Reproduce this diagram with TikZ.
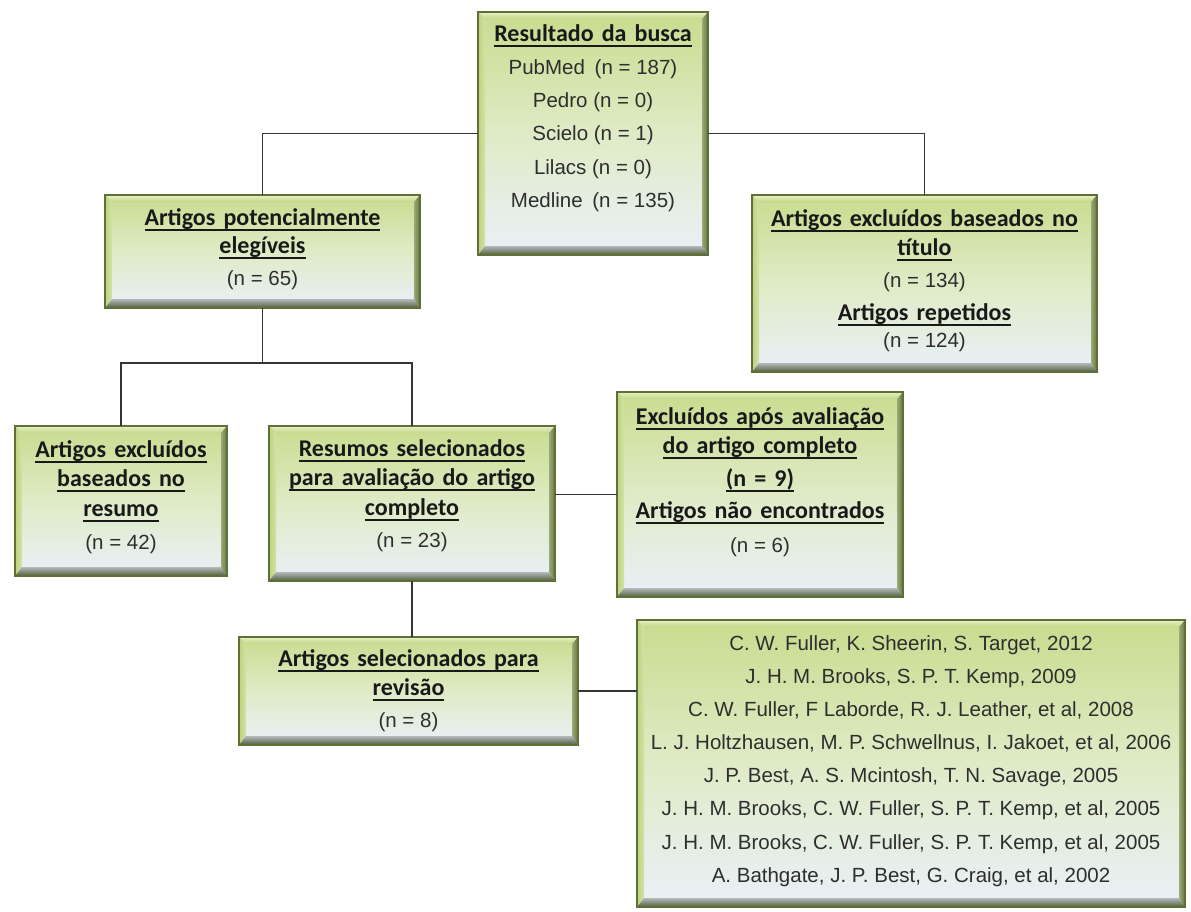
\documentclass[tikz,border=0pt]{standalone}
\usepackage{fontspec}
\setmainfont{Liberation Sans}
\newfontfamily\tfont{Carlito}[WordSpace=1.5]
\usetikzlibrary{calc}
\definecolor{bdr}{HTML}{5E7036}
\definecolor{ftop}{HTML}{C8DC8E}
\definecolor{fmid}{HTML}{DFEBC6}
\definecolor{fbot}{HTML}{E9F0F8}
\definecolor{btopa}{HTML}{E8F1C6}
\definecolor{btopb}{HTML}{C2D686}
\definecolor{blefta}{HTML}{D4E3A4}
\definecolor{bleftb}{HTML}{BCD180}
\definecolor{brighta}{HTML}{9DAA78}
\definecolor{brightb}{HTML}{62733E}
\definecolor{bbota}{HTML}{B3B9BC}
\definecolor{bbotb}{HTML}{535E3A}
\definecolor{txt}{HTML}{2E2E2E}
\definecolor{lin}{HTML}{353535}
\newsavebox\ulbox
\newcommand\ulx[1]{\sbox\ulbox{#1}\rlap{\rule[-5.5pt]{\wd\ulbox}{1.6pt}}\usebox\ulbox}
\tikzset{
  bev/.style={rectangle, inner sep=0pt, outer sep=0pt, draw=bdr, line width=1.3pt,
    top color=ftop, bottom color=fbot, middle color=fmid,
    path picture={
      \coordinate (nw) at (path picture bounding box.north west);
      \coordinate (ne) at (path picture bounding box.north east);
      \coordinate (sw) at (path picture bounding box.south west);
      \coordinate (se) at (path picture bounding box.south east);
      \shade[top color=btopa, bottom color=btopb] (nw) -- (ne) -- ([shift={(-6,7)}]ne) -- ([shift={(7,7)}]nw) -- cycle;
      \shade[left color=bleftb, right color=blefta] (nw) -- ([shift={(7,7)}]nw) -- ([shift={(7,-9)}]sw) -- (sw) -- cycle;
      \shade[left color=brighta, right color=brightb] (ne) -- (se) -- ([shift={(-6,-9)}]se) -- ([shift={(-6,7)}]ne) -- cycle;
      \shade[top color=bbota, bottom color=bbotb] (sw) -- ([shift={(7,-9)}]sw) -- ([shift={(-6,-9)}]se) -- (se) -- cycle;
    }},
  reg/.style={anchor=base, inner sep=0pt, text=txt, font=\fontsize{20.5}{24}\selectfont},
  ttl/.style={anchor=base, inner sep=0pt, text=black!90, font=\tfont\bfseries\fontsize{24}{28}\selectfont},
  conn/.style={draw=lin, line width=1.3pt}
}
\begin{document}
\begin{tikzpicture}[x=1pt, y=-1pt]
\useasboundingbox (0,0) rectangle (1191,911);
% boxes
\node[bev, minimum width=230, minimum height=243] (b1) at (593,133.5) {};
\node[bev, minimum width=315, minimum height=113] (b2) at (262.5,251.5) {};
\node[bev, minimum width=345, minimum height=177] (b3) at (924.5,283.5) {};
\node[bev, minimum width=212, minimum height=150] (b4) at (121,501) {};
\node[bev, minimum width=286, minimum height=155] (b5) at (412,503.5) {};
\node[bev, minimum width=286, minimum height=205] (b6) at (760,494.5) {};
\node[bev, minimum width=339, minimum height=108] (b7) at (408.5,691) {};
\node[bev, minimum width=548, minimum height=287] (b8) at (911,763.5) {};
% connectors
\draw[conn] (b1.west) -| (b2.north);
\draw[conn] (b1.east) -| (b3.north);
\draw[conn] (b2.south) -- ++(0,55) coordinate (j1);
\draw[conn] (b4.north) |- (j1) -| (b5.north);
\draw[conn] (b6.west) -- (b6.west -| b5.east);
\draw[conn] (b5.south) -- (b5.south |- b7.north);
\draw[conn] (b7.east) -- (b7.east -| b8.west);
% texts box 1
\node[ttl] (t1a) at (593,41) {\ulx{Resultado da busca}};
\node[reg] (t1b) at (593,74) {PubMed\hspace{4pt} (n = 187)};
\node[reg] (t1c) at (593,107) {Pedro (n = 0)};
\node[reg] (t1d) at (593,140) {Scielo (n = 1)};
\node[reg] (t1e) at (593,174) {Lilacs (n = 0)};
\node[reg] (t1f) at (593,207) {Medline\hspace{4pt} (n = 135)};
% box 2
\node[ttl] (t2a) at (262.5,225) {\ulx{Artigos potencialmente}};
\node[ttl] (t2b) at (262.5,253) {\ulx{elegíveis}};
\node[reg] (t2c) at (262.5,285) {(n = 65)};
% box 3
\node[ttl] (t3a) at (924.5,226) {\ulx{Artigos excluídos baseados no}};
\node[ttl] (t3b) at (924.5,255) {\ulx{título}};
\node[reg] (t3c) at (924.5,287) {(n = 134)};
\node[ttl] (t3d) at (924.5,320) {\ulx{Artigos repetidos}};
\node[reg] (t3e) at (924.5,347) {(n = 124)};
% box 4
\node[ttl] (t4a) at (121,457) {\ulx{Artigos excluídos}};
\node[ttl] (t4b) at (121,486) {\ulx{baseados no}};
\node[ttl] (t4c) at (121,516) {\ulx{resumo}};
\node[reg] (t4d) at (121,549) {(n = 42)};
% box 5
\node[ttl] (t5a) at (412,456) {\ulx{Resumos selecionados}};
\node[ttl] (t5b) at (412,485) {\ulx{para avaliação do artigo}};
\node[ttl] (t5c) at (412,515) {\ulx{completo}};
\node[reg] (t5d) at (412,547) {(n = 23)};
% box 6
\node[ttl] (t6a) at (760,424) {\ulx{Excluídos após avaliação}};
\node[ttl] (t6b) at (760,453) {\ulx{do artigo completo}};
\node[ttl] (t6c) at (760,486) {\ulx{(n = 9)}};
\node[ttl] (t6d) at (760,518) {\ulx{Artigos não encontrados}};
\node[reg] (t6e) at (760,552) {(n = 6)};
% box 7
\node[ttl] (t7a) at (408.5,666) {\ulx{Artigos selecionados para}};
\node[ttl] (t7b) at (408.5,695) {\ulx{revisão}};
\node[reg] (t7c) at (408.5,727) {(n = 8)};
% box 8
\node[reg] (t8a) at (911,650) {C. W. Fuller, K. Sheerin, S. Target, 2012};
\node[reg] (t8b) at (911,683) {J. H. M. Brooks, S. P. T. Kemp, 2009};
\node[reg] (t8c) at (911,716) {C. W. Fuller, F Laborde, R. J. Leather, et al, 2008};
\node[reg] (t8d) at (911,749) {L. J. Holtzhausen, M. P. Schwellnus, I. Jakoet, et al, 2006};
\node[reg] (t8e) at (911,782) {J. P. Best, A. S. Mcintosh, T. N. Savage, 2005};
\node[reg] (t8f) at (911,815) {J. H. M. Brooks, C. W. Fuller, S. P. T. Kemp, et al, 2005};
\node[reg] (t8g) at (911,849) {J. H. M. Brooks, C. W. Fuller, S. P. T. Kemp, et al, 2005};
\node[reg] (t8h) at (911,882) {A. Bathgate, J. P. Best, G. Craig, et al, 2002};
\end{tikzpicture}
\end{document}
